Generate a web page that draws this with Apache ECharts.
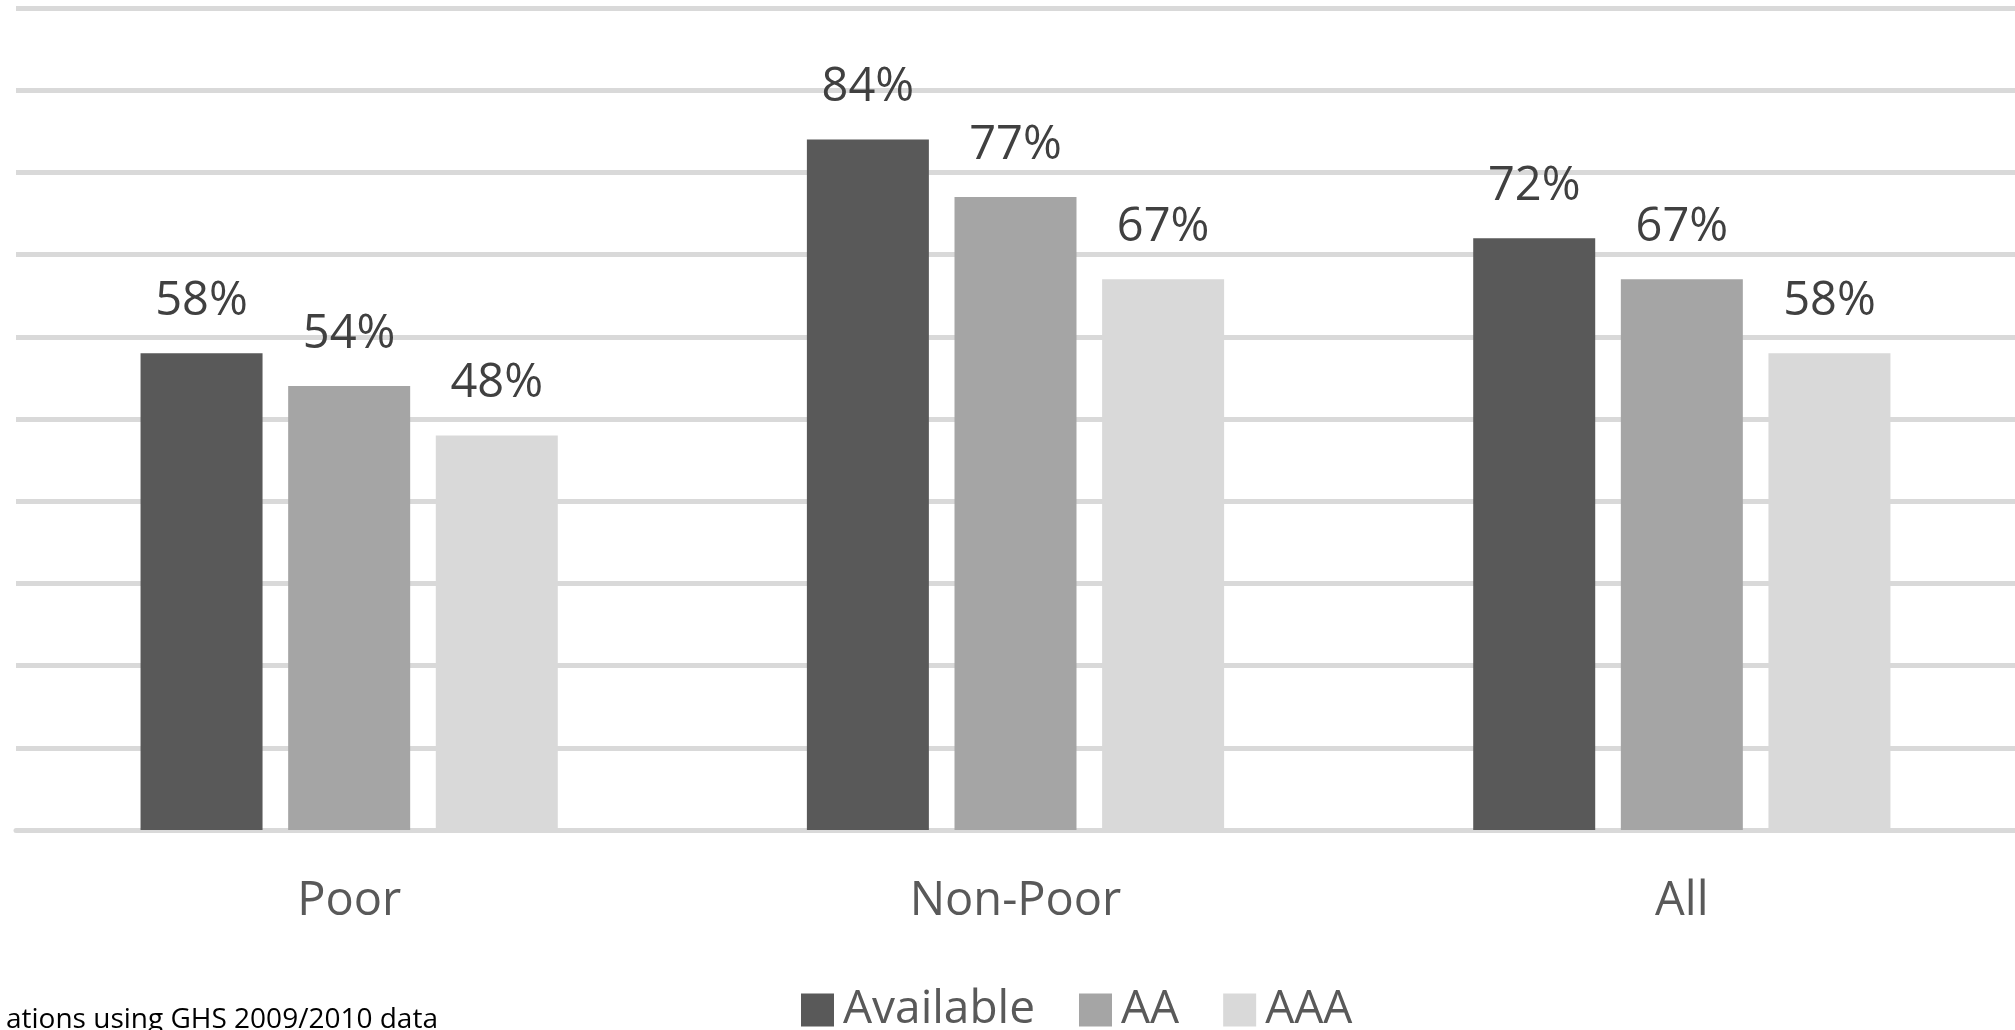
<!DOCTYPE html>
<html>
<head>
<meta charset="utf-8">
<script src="https://cdn.jsdelivr.net/npm/echarts@6/dist/echarts.min.js"></script>
<style>
html,body{margin:0;padding:0;background:#fff;}
#chart{width:2015px;height:1030px;}
</style>
</head>
<body>
<div id="chart"></div>
<script>
const categories = ['Poor', 'Non-Poor', 'All'];
const available = [58, 84, 72];
const aa = [54, 77, 67];
const aaa = [48, 67, 58];
const seriesNames = ['Available', 'AA', 'AAA'];
const sourceNote = 'ations using GHS 2009/2010 data';

const FONT = '"Open Sans", "Noto Sans", sans-serif';
const colors = ['#595959', '#a5a5a5', '#d9d9d9'];

function makeSeries(name, data, color) {
  return {
    name: name,
    type: 'bar',
    data: data,
    barWidth: 122,
    barGap: '21%',
    itemStyle: { color: color },
    label: {
      show: true,
      position: 'top',
      distance: 28,
      formatter: '{c}%',
      color: '#404040',
      fontFamily: FONT,
      fontSize: 47,
      lineHeight: 47
    }
  };
}

const chart = echarts.init(document.getElementById('chart'), null, { renderer: 'canvas' });
chart.setOption({
  animation: false,
  backgroundColor: '#ffffff',
  color: colors,
  grid: { left: 16, right: -2, top: 8, bottom: 200, containLabel: false },
  legend: {
    data: seriesNames,
    left: 796,
    top: 982,
    itemWidth: 33,
    itemHeight: 33,
    itemGap: 44,
    icon: 'rect',
    textStyle: { color: '#595959', fontFamily: FONT, fontSize: 46, lineHeight: 46, padding: [0, 0, 0, 4] }
  },
  xAxis: {
    type: 'category',
    data: categories,
    axisLine: { show: true, lineStyle: { color: '#d9d9d9', width: 5 } },
    axisTick: { show: false },
    axisLabel: { color: '#595959', fontFamily: FONT, fontSize: 47, lineHeight: 47, margin: 48 },
    splitLine: { show: false }
  },
  yAxis: {
    type: 'value',
    min: 0,
    max: 100,
    interval: 10,
    axisLabel: { show: false },
    axisLine: { show: false },
    axisTick: { show: false },
    splitLine: { show: true, lineStyle: { color: '#d9d9d9', width: 5 } }
  },
  graphic: [{
    type: 'text',
    left: 6,
    top: 1006,
    style: { text: sourceNote, fill: '#000000', font: '28px "Open Sans", "Noto Sans", sans-serif' }
  }],
  series: [
    makeSeries(seriesNames[0], available, colors[0]),
    makeSeries(seriesNames[1], aa, colors[1]),
    makeSeries(seriesNames[2], aaa, colors[2])
  ]
});
</script>
</body>
</html>
